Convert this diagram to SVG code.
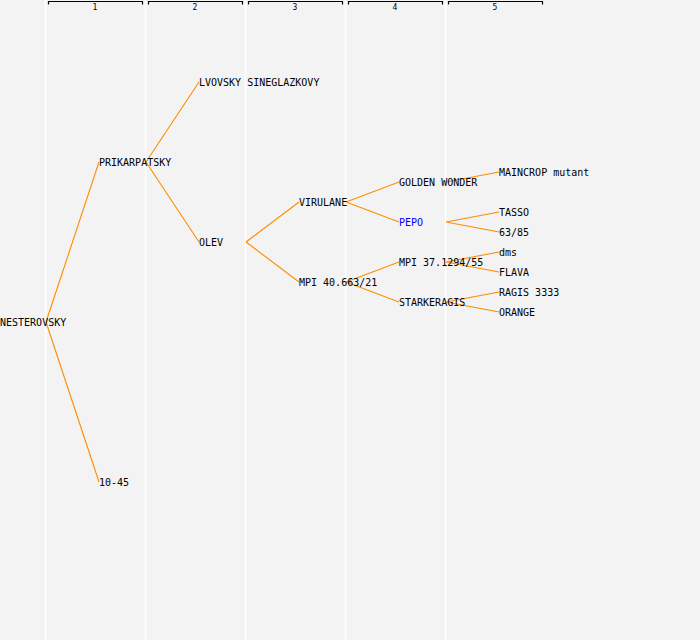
<svg xmlns="http://www.w3.org/2000/svg" width="700" height="640" viewBox="0 0 700 640">
<style>
.bg{fill:#f3f3f3}
.col{stroke:#ffffff;stroke-width:1.5}
.br{fill:none;stroke:#000;stroke-width:1.2}
.num{font-family:"DejaVu Sans Mono","Liberation Mono",monospace;font-size:8px;fill:#000;text-anchor:middle}
.t{font-family:"DejaVu Sans Mono","Liberation Mono",monospace;font-size:10px;fill:#000}
.hl{fill:#0000ff}
.e{stroke:#ff8c00;stroke-width:1.1;fill:none}
</style>
<rect class="bg" x="0" y="0" width="700" height="640"/>
<g id="columns">
<line class="col" x1="45.5" y1="0" x2="45.5" y2="640"/>
<line class="col" x1="145.5" y1="0" x2="145.5" y2="640"/>
<line class="col" x1="245.5" y1="0" x2="245.5" y2="640"/>
<line class="col" x1="345.5" y1="0" x2="345.5" y2="640"/>
<line class="col" x1="445.5" y1="0" x2="445.5" y2="640"/>
<path class="br" d="M48.5,4.5V1.5H142.5V4.5"/>
<path class="br" d="M148.5,4.5V1.5H242.5V4.5"/>
<path class="br" d="M248.5,4.5V1.5H342.5V4.5"/>
<path class="br" d="M348.5,4.5V1.5H442.5V4.5"/>
<path class="br" d="M448.5,4.5V1.5H542.5V4.5"/>
<text class="num" x="95" y="10">1</text>
<text class="num" x="195" y="10">2</text>
<text class="num" x="295" y="10">3</text>
<text class="num" x="395" y="10">4</text>
<text class="num" x="495" y="10">5</text>
</g>
<g id="connectors">
<path class="e" d="M46,322L99,162M46,322L99,482"/>
<path class="e" d="M146,162L199,82M146,162L199,242"/>
<path class="e" d="M246,242L299,202M246,242L299,282"/>
<path class="e" d="M346,202L399,182M346,202L399,222"/>
<path class="e" d="M346,282L399,262M346,282L399,302"/>
<path class="e" d="M446,182L499,172"/>
<path class="e" d="M446,222L499,212M446,222L499,232"/>
<path class="e" d="M446,262L499,252M446,262L499,272"/>
<path class="e" d="M446,302L499,292M446,302L499,312"/>
</g>
<g id="n-nesterovsky"><text class="t" x="0" y="326">NESTEROVSKY</text></g>
<g id="n-prikarpatsky"><text class="t" x="99" y="166">PRIKARPATSKY</text></g>
<g id="n-10-45"><text class="t" x="99" y="486">10-45</text></g>
<g id="n-lvovsky"><text class="t" x="199" y="86">LVOVSKY SINEGLAZKOVY</text></g>
<g id="n-olev"><text class="t" x="199" y="246">OLEV</text></g>
<g id="n-virulane"><text class="t" x="299" y="206">VIRULANE</text></g>
<g id="n-mpi40"><text class="t" x="299" y="286">MPI 40.663/21</text></g>
<g id="n-golden"><text class="t" x="399" y="186">GOLDEN WONDER</text></g>
<g id="n-pepo"><text class="t hl" x="399" y="226">PEPO</text></g>
<g id="n-mpi37"><text class="t" x="399" y="266">MPI 37.1294/55</text></g>
<g id="n-starkeragis"><text class="t" x="399" y="306">STARKERAGIS</text></g>
<g id="n-maincrop"><text class="t" x="499" y="176">MAINCROP mutant</text></g>
<g id="n-tasso"><text class="t" x="499" y="216">TASSO</text></g>
<g id="n-6385"><text class="t" x="499" y="236">63/85</text></g>
<g id="n-dms"><text class="t" x="499" y="256">dms</text></g>
<g id="n-flava"><text class="t" x="499" y="276">FLAVA</text></g>
<g id="n-ragis"><text class="t" x="499" y="296">RAGIS 3333</text></g>
<g id="n-orange"><text class="t" x="499" y="316">ORANGE</text></g>
</svg>
